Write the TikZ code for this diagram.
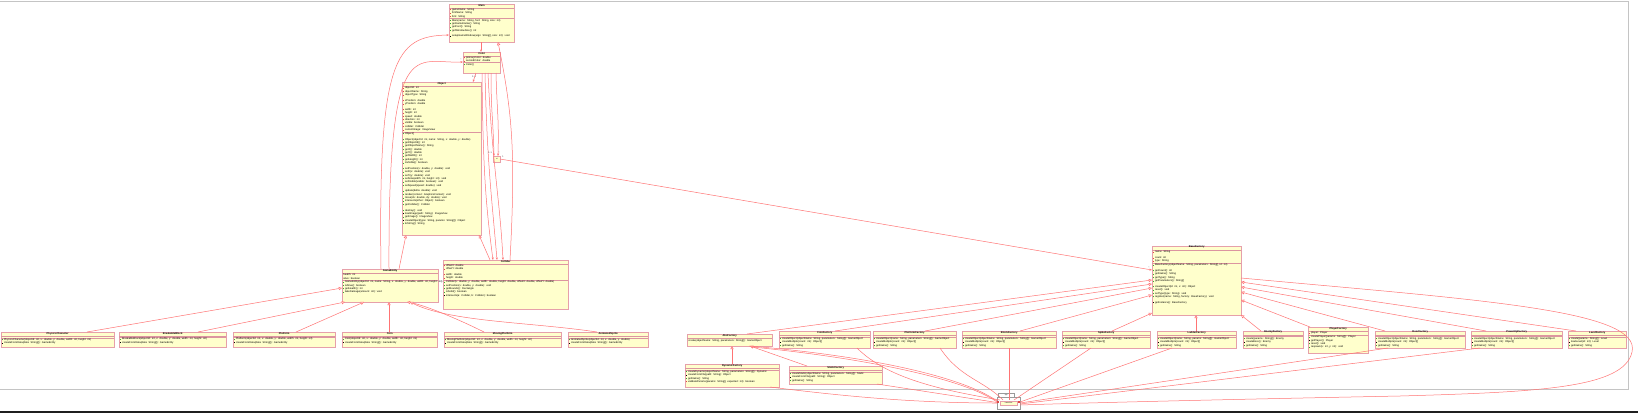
\documentclass[tikz,border=0pt]{standalone}
\usepackage{fontspec}
\setmainfont{Liberation Sans}
\usetikzlibrary{arrows.meta,calc}
\definecolor{clsfill}{HTML}{FFFFCC}
\definecolor{clsborder}{HTML}{E6A0AA}
\definecolor{sepc}{HTML}{DC95A0}
\definecolor{connc}{HTML}{FF7474}
\definecolor{framec}{HTML}{C4C4C4}
\definecolor{pvc}{HTML}{E04848}
\definecolor{pbc}{HTML}{38A838}
\definecolor{pkgc}{HTML}{9A9A9A}
\newcommand{\mitem}[2]{\mbox{\hspace{1.2pt}\textcolor{#1}{\rule[0.1pt]{1pt}{1pt}}\hspace{0.6pt}#2}\par}
\newcommand{\mpv}[1]{\mitem{pvc}{#1}}
\newcommand{\mpb}[1]{\mitem{pbc}{#1}}
\newcommand{\mps}[1]{\mitem{black}{#1}}
\newcommand{\mpl}[1]{\mbox{\hspace{1.2pt}#1}\par}
\newcommand{\mgap}{\vspace{2.4pt}}
\newcommand{\clsbody}[3]{%
  \vspace{1pt}%
  {\centering\bfseries #1\par}%
  \vspace{0.5pt}{\color{sepc}\hrule height 0.45pt}\vspace{0.5pt}%
  #2%
  \vspace{0.5pt}{\color{sepc}\hrule height 0.45pt}\vspace{0.5pt}%
  #3}
\newcommand{\umlclass}[8]{%
  \node[clsbox, minimum width=#4pt, minimum height=#5pt] (#1) at (#2,#3) {};
  \node[clstext, text width=#4pt] (#1t) at (#1.north west) {\clsbody{#6}{#7}{#8}};
}
\tikzset{
  clsbox/.style={draw=clsborder, fill=clsfill, line width=1.15pt, inner sep=0pt, anchor=north west},
  clstext/.style={inner sep=0pt, anchor=north west, align=left},
  conn/.style={draw=connc, line width=0.5pt},
  gen/.style={conn, -{Triangle[fill=white, length=3.2pt, width=3.2pt]}},
  assoc/.style={conn, -{Stealth[length=2.6pt, width=2pt]}},
  mult/.style={font=\fontsize{2.2}{2.5}\selectfont, inner sep=0pt, text=black!75},
  pkg/.style={draw=pkgc, fill=white, line width=0.5pt, inner sep=0pt, anchor=north west},
}
\begin{document}
\begin{tikzpicture}[x=1pt, y=-1pt, font=\fontsize{2.6}{3.35}\selectfont]
\useasboundingbox (0,0) rectangle (1638,413);
\fill[white] (0,0) rectangle (1638,413);
\draw[framec, line width=0.8pt] (0,1.5) -- (1628.5,1.5) -- (1628.5,389) -- (0,389);
\fill[black!88] (0,410.5) rectangle (1638,413);

% ---------- upper classes ----------
\umlclass{main}{449}{4}{65}{38}{Main}
 {\mpv{gameName: String}\mpv{fontName: String}\mpv{font: String}}
 {\mpb{Main(name: String, font: String, size: int)}\mpb{getGameName(): String}\mpb{getFont(): String}\mpb{getWindowSize(): int}\mgap\mps{setupGameWindow(args: String[], size: int): void}}

\umlclass{color}{463}{52}{37}{21}{Color}
 {\mpv{primaryColor: double}\mpv{secondColor: double}}
 {\mpb{Color()}}

\umlclass{object}{402}{82}{79}{153}{Object}
 {\mpv{objectId: int}\mpv{objectName: String}\mpv{objectType: String}\mgap
  \mpv{xPosition: double}\mpv{yPosition: double}\mgap
  \mpv{width: int}\mpv{height: int}\mpv{speed: double}\mpv{direction: int}\mpv{visible: boolean}\mpv{collider: Collider}\mpv{currentImage: ImageView}}
 {\mpb{Object()}\mgap
  \mpb{Object(objectId: int, name: String, x: double, y: double)}\mpb{getObjectId(): int}\mpb{getObjectName(): String}\mpb{getX(): double}\mpb{getY(): double}\mpb{getWidth(): int}\mpb{getHeight(): int}\mpb{isVisible(): boolean}\mgap
  \mpb{setPosition(x: double, y: double): void}\mpb{setX(x: double): void}\mpb{setY(y: double): void}\mpb{setSize(width: int, height: int): void}\mpb{setVisible(visible: boolean): void}\mpb{setSpeed(speed: double): void}\mgap
  \mpb{update(delta: double): void}\mpb{render(context: GraphicsContext): void}\mpb{move(dx: double, dy: double): void}\mpb{intersects(other: Object): boolean}\mpb{getCollider(): Collider}\mgap
  \mpb{destroy(): void}\mps{loadImage(path: String): ImageView}\mpb{getImage(): ImageView}\mps{createObject(type: String, params: String[]): Object}\mpb{toString(): String}}

\node[clsbox, line width=0.6pt, minimum width=7pt, minimum height=6pt, font=\fontsize{1.6}{1.8}\selectfont] (key) at (493,156) {Id};

\umlclass{abs}{342}{269}{96}{33}{GameEntity}
 {\mpl{health: int}\mpl{alive: boolean}}
 {\mpb{GameEntity(objectId: int, name: String, x: double, y: double, width: int, height: int)}\mpb{isAlive(): boolean}\mpb{getHealth(): int}\mpb{takeDamage(amount: int): void}}

\umlclass{coll}{443}{260}{125}{49}{Collider}
 {\mpv{offsetX: double}\mpv{offsetY: double}\mgap\mpv{width: double}\mpv{height: double}}
 {\mpb{Collider(x: double, y: double, width: double, height: double, offsetX: double, offsetY: double)}\mpb{setPosition(x: double, y: double): void}\mpb{getBounds(): Rectangle}\mpb{isSolid(): boolean}\mps{intersects(a: Collider, b: Collider): boolean}}

% ---------- left subclasses ----------
\umlclass{l1}{1}{332}{113}{15}{PhysicsCharacter}{}
 {\mpb{PhysicsCharacter(objectId: int, x: double, y: double, width: int, height: int)}\mps{createFromData(data: String[]): GameEntity}}
\umlclass{l2}{119}{332}{107}{15}{BreakableBlock}{}
 {\mpb{BreakableBlock(objectId: int, x: double, y: double, width: int, height: int)}\mps{createFromData(data: String[]): GameEntity}}
\umlclass{l3}{233}{332}{102}{15}{Platform}{}
 {\mpb{Platform(objectId: int, x: double, y: double, width: int, height: int)}\mps{createFromData(data: String[]): GameEntity}}
\umlclass{l4}{342}{332}{95}{15}{Coin}{}
 {\mpb{Coin(objectId: int, x: double, y: double, width: int, height: int)}\mps{createFromData(data: String[]): GameEntity}}
\umlclass{l5}{444}{332}{117}{15}{MovingPlatform}{}
 {\mpb{MovingPlatform(objectId: int, x: double, y: double, width: int, height: int)}\mps{createFromData(data: String[]): GameEntity}}
\umlclass{l6}{568}{332}{80}{15}{AnimatedSprite}{}
 {\mpb{AnimatedSprite(objectId: int, x: double, y: double)}\mps{createFromData(data: String[]): GameEntity}}

% ---------- factories ----------
\umlclass{bf}{1152}{246}{89}{69}{BaseFactory}
 {\mpv{name: String}\mgap\mpv{count: int}\mpv{type: String}}
 {\mpb{BaseFactory(objectName: String, parameters: String[], id: int)}\mgap
  \mpb{getCount(): int}\mpb{getName(): String}\mpb{getType(): String}\mpb{getParameters(): String[]}\mgap
  \mpb{createObject(id: int, x: int): Object}\mpb{reset(): void}\mpb{setType(type: String): void}\mpb{register(name: String, factory: BaseFactory): void}\mgap
  \mps{getInstance(): BaseFactory}}

\node[clsbox, minimum width=85pt, minimum height=12pt] (absf) at (687,334) {};
\node[clstext, text width=85pt] (absft) at (absf.north west) {\vspace{1pt}{\centering\bfseries AbsFactory\par}\vspace{0.5pt}{\color{sepc}\hrule height 0.45pt}\vspace{0.6pt}\mpl{create(objectName: String, parameters: String[]): GameObject}};

\umlclass{r2}{779}{331}{91}{17}{CoinFactory}{}
 {\mpb{createObject(objectName: String, parameters: String[]): GameObject}\mps{createMultiple(count: int): Object[]}\mpb{getName(): String}}
\umlclass{r3}{873}{331}{83}{17}{PlatformFactory}{}
 {\mpb{createObject(name: String, parameters: String[]): GameObject}\mps{createMultiple(count: int): Object[]}\mpb{getName(): String}}
\umlclass{r4}{962}{331}{94}{17}{BlockFactory}{}
 {\mpb{createObject(objectName: String, parameters: String[]): GameObject}\mps{createMultiple(count: int): Object[]}\mpb{getName(): String}}
\umlclass{r5}{1062}{331}{88}{17}{SpikeFactory}{}
 {\mpb{createObject(name: String, parameters: String[]): GameObject}\mps{createMultiple(count: int): Object[]}\mpb{getName(): String}}
\umlclass{r6}{1157}{331}{79}{17}{LadderFactory}{}
 {\mpb{createObject(name: String, params: String[]): GameObject}\mps{createMultiple(count: int): Object[]}\mpb{getName(): String}}
\umlclass{r7}{1243}{331}{60}{17}{EnemyFactory}{}
 {\mpb{create(params: String[]): Enemy}\mps{createBoss(): Enemy}\mpb{getName(): String}}
\umlclass{r8}{1308}{327}{60}{26}{PlayerFactory}
 {\mpv{player: Player}}
 {\mpb{createPlayer(params: String[]): Player}\mps{getPlayer(): Player}\mpb{reset(): void}\mpb{respawn(x: int, y: int): void}}
\umlclass{r9}{1375}{331}{90}{17}{DoorFactory}{}
 {\mpb{createObject(objectName: String, parameters: String[]): GameObject}\mps{createMultiple(count: int): Object[]}\mpb{getName(): String}}
\umlclass{r10}{1471}{331}{91}{17}{PowerUpFactory}{}
 {\mpb{createObject(objectName: String, parameters: String[]): GameObject}\mps{createMultiple(count: int): Object[]}\mpb{getName(): String}}
\umlclass{r11}{1568}{331}{58}{17}{LevelFactory}{}
 {\mpb{create(params: String[]): Level}\mps{loadLevel(id: int): Level}\mpb{getName(): String}}

\umlclass{f1}{685}{364}{94}{23}{DynamicFactory}{}
 {\mpb{createDynamic(objectName: String, parameters: String[]): Dynamic}\mps{createFromFile(path: String): Object}\mpb{getName(): String}\mpv{validateParams(params: String[], expected: int): boolean}}
\umlclass{f2}{789}{366}{93}{18}{StaticFactory}{}
 {\mpb{createStatic(objectName: String, parameters: String[]): Static}\mps{createFromFile(path: String): Object}\mpb{getName(): String}}

% ---------- launcher package ----------
\node[pkg, minimum width=16pt, minimum height=4pt, font=\fontsize{1.6}{1.8}\selectfont] (ltab) at (998,393) {app};
\node[pkg, minimum width=23pt, minimum height=12pt] (lpk) at (997,397) {};
\node[clsbox, line width=0.4pt, minimum width=17pt, minimum height=4pt, font=\fontsize{1.8}{2}\selectfont] (lin) at (1000,400.5) {Launcher};

% ---------- connectors: upper part ----------
\draw[assoc] ($(main.north west)+(32,38)$) -- ($(color.north west)+(18,0)$);
\draw[assoc] ($(color.north west)+(13,21)$) -- ($(object.north west)+(71,0)$);
\draw[assoc] ($(color.north west)+(19,21)$) .. controls +(1,90) and +(-8,-60) .. ($(coll.north west)+(50,0)$);
\draw[assoc] ($(color.north west)+(22,21)$) .. controls +(2,90) and +(-5,-60) .. ($(coll.north west)+(54,0)$);
\draw[assoc] ($(color.north west)+(25,21)$) .. controls +(4,90) and +(-3,-60) .. ($(coll.north west)+(60,0)$);
\draw[assoc] ($(color.north west)+(28,21)$) .. controls +(0,40) and +(-1,-40) .. ($(key.north west)+(1,0)$);
\draw[assoc] ($(color.north west)+(33,21)$) .. controls +(1,40) and +(1,-40) .. ($(key.north west)+(5,0)$);
\draw[gen] ($(coll.north west)+(67,0)$) .. controls +(6,-110) and +(14,70) .. ($(main.north west)+(49,38)$);
\draw[gen] ($(coll.north west)+(47,0)$) -- ($(object.north west)+(77,153)$);
\draw[assoc] ($(key.north west)+(7,3)$) -- ($(bf.north west)+(0,24)$);
\draw[assoc] ($(abs.north west)+(39,0)$) .. controls +(-3,-209) and +(-54,1) .. ($(main.north west)+(0,31)$);
\draw[assoc] ($(abs.north west)+(47,0)$) .. controls +(-1,-239) and +(-48,2) .. ($(color.north west)+(0,10)$);
\draw[gen] ($(abs.north west)+(57,0)$) -- ($(object.north west)+(4,153)$);

% ---------- left generalizations ----------
\draw[gen] ($(l1.north west)+(86,0)$) -- ($(abs.north west)+(0,19)$);
\draw[gen] ($(l2.north west)+(79,0)$) -- ($(abs.north west)+(3,33)$);
\draw[gen] ($(l3.north west)+(63,0)$) -- ($(abs.north west)+(22,33)$);
\draw[gen] ($(l4.north west)+(47,0)$) -- ($(abs.north west)+(47,33)$);
\draw[gen] ($(l5.north west)+(40,0)$) .. controls +(-24,-12) and +(18,3) .. ($(abs.north west)+(65,33)$);
\draw[gen] ($(l6.north west)+(29,0)$) .. controls +(-67,-10) and +(40,20) .. ($(abs.north west)+(68,33)$);

% ---------- factory generalizations ----------
\draw[gen] ($(absf.north west)+(60,0)$) -- ($(bf.north west)+(0,34)$);
\draw[gen] ($(r2.north west)+(56,0)$) -- ($(bf.north west)+(0,38)$);
\draw[gen] ($(r3.north west)+(52,0)$) -- ($(bf.north west)+(0,42)$);
\draw[gen] ($(r4.north west)+(58,0)$) -- ($(bf.north west)+(0,49)$);
\draw[gen] ($(r5.north west)+(50,0)$) -- ($(bf.north west)+(0,67)$);
\draw[gen] ($(r6.north west)+(39,0)$) -- ($(bf.north west)+(44,69)$);
\draw[gen] ($(r7.north west)+(18,0)$) -- ($(bf.north west)+(89,69)$);
\draw[gen] ($(r8.north west)+(2,0)$) -- ($(bf.north west)+(89,54)$);
\draw[gen] ($(r9.north west)+(10,0)$) -- ($(bf.north west)+(89,46)$);
\draw[gen] ($(r10.north west)+(15,0)$) -- ($(bf.north west)+(89,41)$);
\draw[gen] ($(r11.north west)+(8,0)$) -- ($(bf.north west)+(89,36)$);
\draw[gen] ($(f1.north west)+(47,0)$) -- ($(absf.north west)+(45,12)$);
\draw[gen] ($(f2.north west)+(18,0)$) -- ($(absf.north west)+(63,12)$);

% ---------- launcher dependencies ----------
\draw[conn] ($(absf.north west)+(62,12)$) .. controls +(111,9) and +(-37,-26) .. ($(lpk.north west)+(0,4)$);
\draw[conn] ($(absf.north west)+(65,13)$) .. controls +(113,11) and +(-32,-23) .. ($(lpk.north west)+(0,5)$);
\draw[conn] ($(r2.north west)+(78,17)$) .. controls +(30,30) and +(-60,-10) .. ($(lpk.north west)+(3,3)$);
\draw[conn] ($(r3.north west)+(67,17)$) .. controls +(20,30) and +(-20,-20) .. ($(lpk.north west)+(6,3)$);
\draw[conn] ($(r4.north west)+(47,17)$) -- ($(lpk.north west)+(12,3)$);
\draw[conn] ($(r5.north west)+(29,17)$) -- ($(lpk.north west)+(17,3)$);
\draw[conn] ($(r6.north west)+(15,17)$) -- ($(lpk.north west)+(23,5)$);
\draw[conn] ($(r9.north west)+(13,17)$) -- ($(lpk.north west)+(23,6)$);
\draw[conn] ($(r10.north west)+(9,17)$) -- ($(lpk.north west)+(23,7)$);
\draw[conn] ($(f1.north west)+(85,23)$) .. controls +(80,10) and +(-80,0) .. ($(lpk.north west)+(0,6)$);
\draw[conn] ($(f2.north west)+(88,18)$) -- ($(lpk.north west)+(0,5.5)$);
\draw[conn] ($(bf.north west)+(89,32)$) .. controls (1480,300) and (1642,310) .. (1632,352) .. controls (1624,388) and (1540,392) .. (1400,396) .. controls (1200,400) and (1080,403) .. ($(lpk.north west)+(23,8)$);

\node[fill=pvc, inner sep=0pt, minimum size=2.4pt] (sqa) at ($(lpk.north west)+(1,5)$) {};
\node[fill=pvc, inner sep=0pt, minimum size=2.4pt] (sqb) at ($(lpk.north west)+(22,5)$) {};

% ---------- multiplicities ----------
\node[mult] (mc1) at ($(color.north west)+(-2,8)$) {*};
\node[mult] (mc2) at ($(color.north west)+(11,25)$) {0..1};
\node[mult] (mk1) at ($(key.north west)+(-3,-3)$) {0..1};
\node[mult] (mk2) at ($(key.north west)+(6,-3)$) {*};
\node[mult] (mk3) at ($(key.north west)+(10,1)$) {1};
\node[mult] (mb1) at ($(bf.north west)+(-3,22)$) {*};
\end{tikzpicture}
\end{document}
